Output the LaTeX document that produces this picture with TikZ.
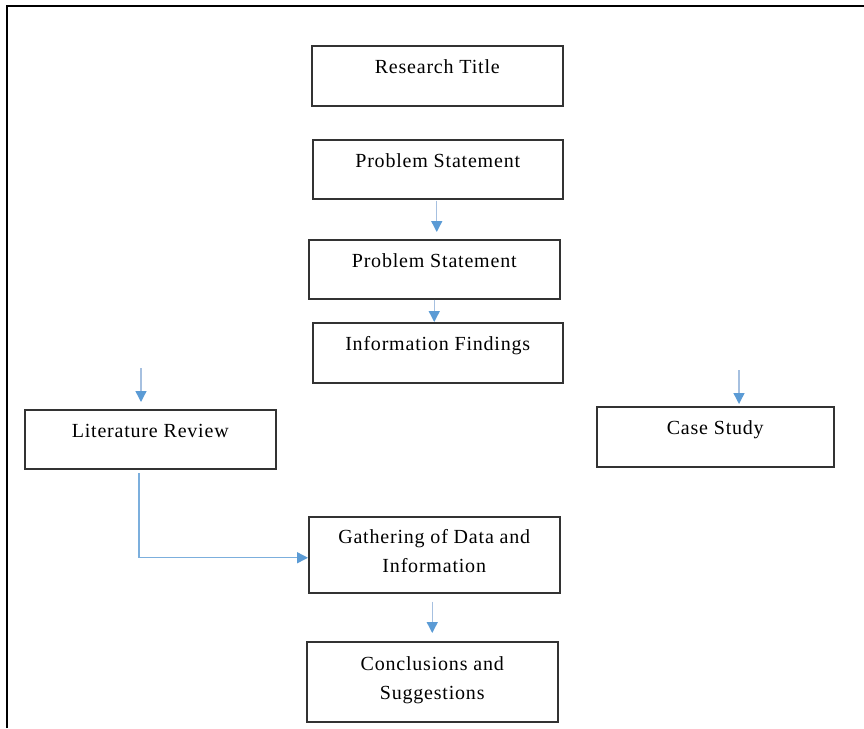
\documentclass[tikz,border=0pt]{standalone}
\usepackage{fontspec}
\setmainfont[LetterSpace=4]{Liberation Serif}
\usetikzlibrary{arrows.meta}
\definecolor{flowline}{HTML}{A6C0E0}
\definecolor{flowtip}{HTML}{5B9BD5}
\tikzset{
  stepbox/.style={draw=black!80, line width=1.5pt, anchor=north west, inner sep=0pt,
    align=center, text height=28pt, font=\fontsize{20}{29}\selectfont},
  flow/.style={draw=flowline, line width=1.4pt,
    -{Triangle[length=11pt,width=11pt,color=flowtip]}}
}
\begin{document}
\begin{tikzpicture}[x=1pt,y=1pt]
    \useasboundingbox (0,0) rectangle (864,-728);
    \draw[line width=1.5pt] (7,-728) -- (7,-6) -- (864,-6);
    \node[stepbox, minimum width=251pt, text depth=32pt] (t) at (311,-45) {Research Title};
    \node[stepbox, minimum width=250pt, text depth=31pt] (p) at (312,-139) {Problem Statement};
    \node[stepbox, minimum width=251pt, text depth=31pt] (q) at (308,-239) {Problem Statement};
    \node[stepbox, minimum width=250pt, text depth=32pt] (f) at (312,-322) {Information Findings};
    \node[stepbox, minimum width=251pt, text depth=31pt] (l) at (24,-409) {Literature Review};
    \node[stepbox, minimum width=237pt, text depth=32pt] (c) at (596,-406) {Case Study};
    \node[stepbox, minimum width=251pt, text height=56pt, text depth=20pt] (g) at (308,-516) {Gathering of Data and\\Information};
    \node[stepbox, minimum width=251pt, text height=58pt, text depth=22pt] (s) at (306,-641) {Conclusions and\\Suggestions};
    \coordinate (lin) at (141,-368);
    \coordinate (cin) at (739,-370);
    \coordinate (lout) at (139,-473);
    \draw[flow, shorten <=1pt, shorten >=7pt] ([xshift=-1pt]p.south) to ([xshift=-1pt]p.south |- q.north);
    \draw[flow] (q.south) to (q.south |- f.north);
    \draw[flow, shorten >=7pt] (lin) to (lin |- l.north);
    \draw[flow, shorten >=2pt] (cin) to (cin |- c.north);
    \draw[flow, draw=flowtip!80!white] (lout) |- ([yshift=-3pt]g.west);
    \draw[flow, shorten <=8pt, shorten >=8pt] (s.north |- g.south) to (s.north);
\end{tikzpicture}
\end{document}
